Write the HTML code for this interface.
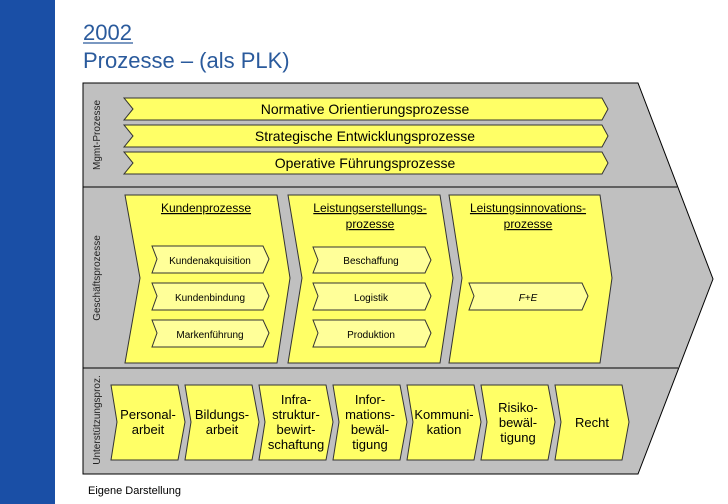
<!DOCTYPE html>
<html><head><meta charset="utf-8"><style>
html,body{margin:0;padding:0;background:#fff;}
svg{display:block;font-family:"Liberation Sans",Arial,sans-serif;}
</style></head><body>
<svg width="728" height="504" viewBox="0 0 728 504">
<rect x="0" y="0" width="55" height="504" fill="#1a4fa6"/>
<text x="83" y="40" font-size="22" fill="#2a5a9c">2002</text>
<line x1="83" y1="43" x2="133" y2="43" stroke="#2a5a9c" stroke-width="1.2"/>
<text x="83" y="68" font-size="22" fill="#2a5a9c">Prozesse – (als PLK)</text>

<polygon points="83,83 638,83 713,279 638,474 83,474" fill="#c0c0c0" stroke="#000" stroke-width="1"/>
<line x1="83" y1="187" x2="677" y2="187" stroke="#000"/>
<line x1="83" y1="368" x2="678" y2="368" stroke="#000"/>

<g font-size="10" fill="#222">
<text transform="translate(100,135) rotate(-90)" text-anchor="middle">Mgmt-Prozesse</text>
<text transform="translate(100,278) rotate(-90)" text-anchor="middle">Geschäftsprozesse</text>
<text transform="translate(100,420) rotate(-90)" text-anchor="middle">Unterstützungsproz.</text>
</g>

<g fill="#ffff66" stroke="#333" stroke-width="1">
<polygon points="124,98 602,98 608,109 602,120 124,120 133,109"/>
<polygon points="124,125 602,125 608,136 602,147 124,147 133,136"/>
<polygon points="124,152 602,152 608,163 602,174 124,174 133,163"/>
</g>
<g font-size="14" text-anchor="middle" fill="#000">
<text x="365" y="114">Normative Orientierungsprozesse</text>
<text x="365" y="141">Strategische Entwicklungsprozesse</text>
<text x="365" y="168">Operative Führungsprozesse</text>
</g>

<g fill="#ffff66" stroke="#333" stroke-width="1">
<polygon points="125,195 277,195 290,278 277,363 125,363 140,278"/>
<polygon points="288,195 440,195 453,278 440,363 288,363 302,278"/>
<polygon points="449,195 600,195 612,278 600,363 449,363 462,278"/>
</g>
<g fill="#ffff99" stroke="#333" stroke-width="1">
<polygon points="152,246 263,246 269,259 263,273 152,273 157,259"/>
<polygon points="152,283 263,283 269,296 263,310 152,310 157,296"/>
<polygon points="152,320 263,320 269,333 263,347 152,347 157,333"/>
<polygon points="313,247 425,247 431,260 425,273 313,273 318,260"/>
<polygon points="313,283 425,283 431,296 425,310 313,310 318,296"/>
<polygon points="313,320 425,320 431,333 425,347 313,347 318,333"/>
<polygon points="469,283 582,283 588,296 582,310 469,310 474,296"/>
</g>
<g font-size="12" text-anchor="middle" fill="#000" text-decoration="underline">
<text x="206" y="212">Kundenprozesse</text>
<text x="370" y="212">Leistungserstellungs-</text>
<text x="370" y="228">prozesse</text>
<text x="528" y="212">Leistungsinnovations-</text>
<text x="528" y="228">prozesse</text>
</g>
<g font-size="10" text-anchor="middle" fill="#000">
<text x="210" y="264">Kundenakquisition</text>
<text x="210" y="301">Kundenbindung</text>
<text x="210" y="338">Markenführung</text>
<text x="371" y="264">Beschaffung</text>
<text x="371" y="301">Logistik</text>
<text x="371" y="338">Produktion</text>
<text x="528" y="301" font-style="italic">F+E</text>
</g>

<g fill="#ffff66" stroke="#333" stroke-width="1">
<polygon points="111,385 178,385 185,422 178,460 111,460 117,422"/>
<polygon points="185,385 252,385 259,422 252,460 185,460 191,422"/>
<polygon points="259,385 326,385 333,422 326,460 259,460 265,422"/>
<polygon points="333,385 400,385 407,422 400,460 333,460 339,422"/>
<polygon points="407,385 474,385 481,422 474,460 407,460 413,422"/>
<polygon points="481,385 548,385 555,422 548,460 481,460 487,422"/>
<polygon points="555,385 622,385 629,422 622,460 555,460 561,422"/>
</g>
<g font-size="13" text-anchor="middle" fill="#000">
<text x="148" y="419">Personal-</text><text x="148" y="434">arbeit</text>
<text x="222" y="419">Bildungs-</text><text x="222" y="434">arbeit</text>
<text x="296" y="404">Infra-</text><text x="296" y="419">struktur-</text><text x="296" y="434">bewirt-</text><text x="296" y="449">schaftung</text>
<text x="370" y="404">Infor-</text><text x="370" y="419">mations-</text><text x="370" y="434">bewäl-</text><text x="370" y="449">tigung</text>
<text x="444" y="419">Kommuni-</text><text x="444" y="434">kation</text>
<text x="518" y="412">Risiko-</text><text x="518" y="427">bewäl-</text><text x="518" y="442">tigung</text>
<text x="592" y="427">Recht</text>
</g>

<text x="88" y="494" font-size="11" fill="#000">Eigene Darstellung</text>
</svg>
</body></html>
